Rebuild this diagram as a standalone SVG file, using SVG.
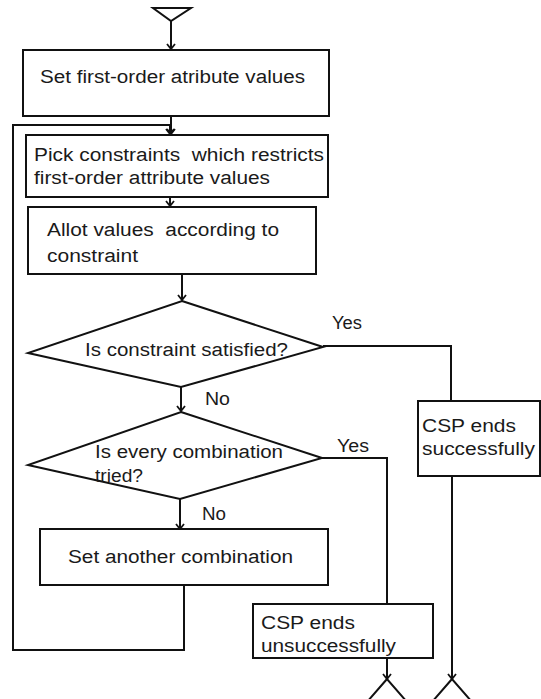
<svg xmlns="http://www.w3.org/2000/svg" width="541" height="699" viewBox="0 0 541 699">
  <style>
    .box { fill: #fff; stroke: #111; stroke-width: 2; }
    .line { fill: none; stroke: #111; stroke-width: 2; }
    .t { font-family: "Liberation Sans", Arial, sans-serif; font-size: 18px; fill: #1a1a1a; white-space: pre; }
  </style>
  <defs>
    <marker id="arr" viewBox="-6 -6 12 12" markerWidth="12" markerHeight="12" markerUnits="userSpaceOnUse" refX="0" refY="0" orient="auto">
      <path d="M-5,-4 L0,0 L-5,4" fill="none" stroke="#111" stroke-width="1.8"/>
    </marker>
  </defs>
  <rect width="541" height="699" fill="#fff"/>

  <!-- start terminal -->
  <g id="start">
    <path class="line" d="M153,8 L191,8 L171,21 Z"/>
  </g>

  <!-- connectors -->
  <g id="connectors">
    <path class="line" d="M171,21 L171,49" marker-end="url(#arr)"/>
    <path class="line" d="M171,116 L171,134" marker-end="url(#arr)"/>
    <path class="line" d="M184,586 L184,650 L13,650 L13,125 L170,125 L170,134" marker-end="url(#arr)"/>
    <path class="line" d="M170,197 L170,206" marker-end="url(#arr)"/>
    <path class="line" d="M182,274 L182,300" marker-end="url(#arr)"/>
    <path class="line" d="M181,387 L181,411" marker-end="url(#arr)"/>
    <path class="line" d="M180,499 L180,529" marker-end="url(#arr)"/>
    <path class="line" d="M323,346 L451,346 L451,401"/>
    <path class="line" d="M322,458 L387,458 L387,604"/>
    <path class="line" d="M452,476 L452,679" marker-end="url(#arr)"/>
    <path class="line" d="M387,658 L387,679" marker-end="url(#arr)"/>
    <text class="t" x="332" y="329" textLength="30" lengthAdjust="spacingAndGlyphs">Yes</text>
    <text class="t" x="205" y="405" textLength="25" lengthAdjust="spacingAndGlyphs">No</text>
    <text class="t" x="337" y="452" textLength="32" lengthAdjust="spacingAndGlyphs">Yes</text>
    <text class="t" x="202" y="520" textLength="24" lengthAdjust="spacingAndGlyphs">No</text>
  </g>

  <g id="set-first-order">
    <rect class="box" x="23" y="50" width="306" height="66"/>
    <text class="t" x="40" y="83" textLength="265" lengthAdjust="spacingAndGlyphs">Set first-order atribute values</text>
  </g>

  <g id="pick-constraints">
    <rect class="box" x="26" y="135" width="302" height="62"/>
    <text class="t" x="34" y="161" textLength="290" lengthAdjust="spacingAndGlyphs">Pick constraints  which restricts</text>
    <text class="t" x="34" y="184" textLength="236" lengthAdjust="spacingAndGlyphs">first-order attribute values</text>
  </g>

  <g id="allot-values">
    <rect class="box" x="28" y="207" width="288" height="67"/>
    <text class="t" x="47" y="236" textLength="232" lengthAdjust="spacingAndGlyphs">Allot values  according to</text>
    <text class="t" x="47" y="262" textLength="91" lengthAdjust="spacingAndGlyphs">constraint</text>
  </g>

  <g id="constraint-satisfied">
    <path class="box" d="M182,301 L323,347 L181,387 L28,353 Z"/>
    <text class="t" x="85" y="356" textLength="203" lengthAdjust="spacingAndGlyphs">Is constraint satisfied?</text>
  </g>

  <g id="every-combination">
    <path class="box" d="M181,412 L322,458 L180,499 L28,465 Z"/>
    <text class="t" x="95" y="458" textLength="188" lengthAdjust="spacingAndGlyphs">Is every combination</text>
    <text class="t" x="95" y="482" textLength="48" lengthAdjust="spacingAndGlyphs">tried?</text>
  </g>

  <g id="another-combination">
    <rect class="box" x="40" y="529" width="288" height="56"/>
    <text class="t" x="68" y="563" textLength="225" lengthAdjust="spacingAndGlyphs">Set another combination</text>
  </g>

  <g id="csp-success">
    <rect class="box" x="418" y="401" width="122" height="75"/>
    <text class="t" x="422" y="432" textLength="94" lengthAdjust="spacingAndGlyphs">CSP ends</text>
    <text class="t" x="422" y="455" textLength="113" lengthAdjust="spacingAndGlyphs">successfully</text>
  </g>

  <g id="csp-failure">
    <rect class="box" x="253" y="604" width="180" height="54"/>
    <text class="t" x="261" y="629" textLength="94" lengthAdjust="spacingAndGlyphs">CSP ends</text>
    <text class="t" x="261" y="652" textLength="135" lengthAdjust="spacingAndGlyphs">unsuccessfully</text>
  </g>

  <!-- end terminals -->
  <g id="end-failure">
    <path class="line" d="M387,679 L367,702 L407,702 Z"/>
  </g>
  <g id="end-success">
    <path class="line" d="M452,679 L432,702 L472,702 Z"/>
  </g>
</svg>
